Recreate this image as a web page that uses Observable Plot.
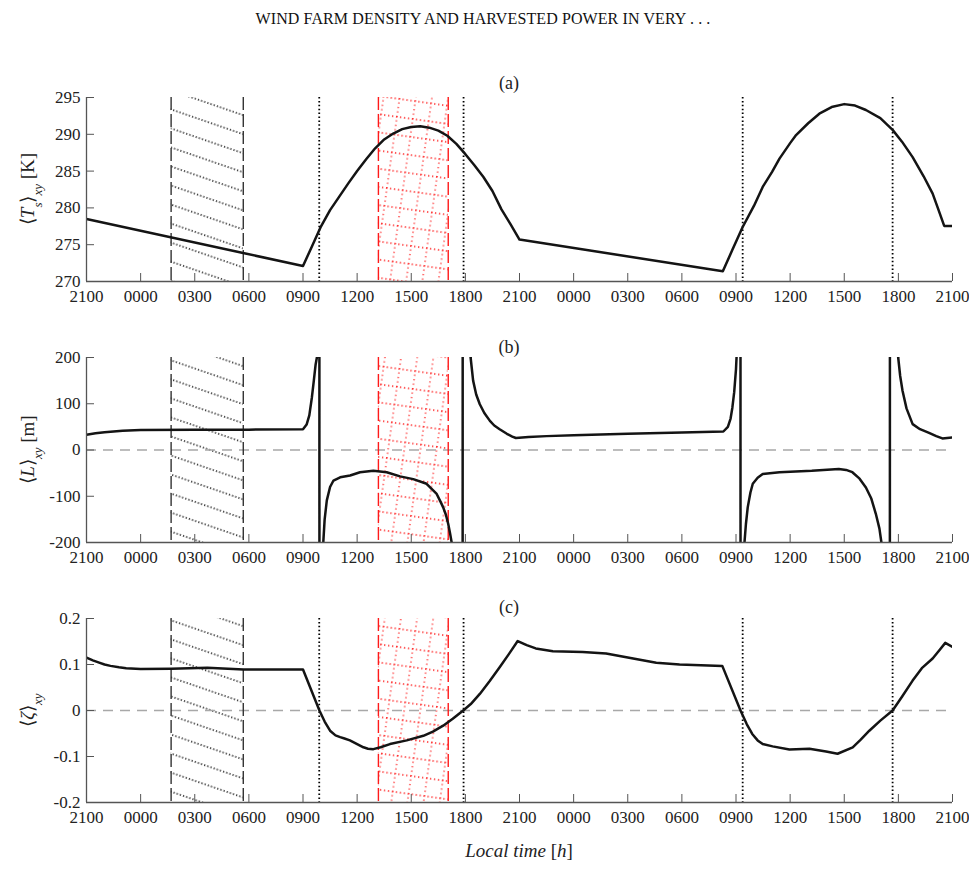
<!DOCTYPE html>
<html><head><meta charset="utf-8">
<script src="https://cdn.jsdelivr.net/npm/d3@7"></script>
<script src="https://cdn.jsdelivr.net/npm/@observablehq/plot@0.6"></script>
<style>
body{margin:0;background:#fff;}
#page{position:relative;width:969px;height:869px;font-family:"Liberation Serif",serif;background:#fff;}
.title{position:absolute;left:0;width:966px;top:10px;text-align:center;font-size:16px;color:#111;letter-spacing:0.1px;}
.xlabel{position:absolute;left:86px;width:866px;top:840px;text-align:center;font-size:19px;color:#222;}
#page svg{position:absolute;left:0;}
#page svg text{font-family:"Liberation Serif",serif;}
</style></head><body>
<div id="page">
<div class="title">WIND FARM DENSITY AND HARVESTED POWER IN VERY . . .</div>
<div class="xlabel"><i>Local time</i> [<i>h</i>]</div>
</div>
<script>
// ---- data (hours since 21:00 of day 1) ----
const tickHours = [0,3,6,9,12,15,18,21,24,27,30,33,36,39,42,45,48];
const tickLabels = ["2100","0000","0300","0600","0900","1200","1500","1800","2100","0000","0300","0600","0900","1200","1500","1800","2100"];
const nightBand = [4.69, 8.69];
const dayBand = [16.18, 20.05];
const zeroCrossings = [12.9, 20.9, 36.37, 44.68];

const aTicks = [270,275,280,285,290,295];
const bTicks = [-200,-100,0,100,200];
const cTicks = [-0.2,-0.1,0,0.1,0.2];

const aHours = [0,12.0,12.5,13.0,13.5,14.0,14.5,15.0,15.5,16.0,16.5,17.0,17.5,18.0,18.5,19.0,19.5,20.0,20.5,21.0,21.5,22.0,22.5,23.0,23.5,24.0,
  35.27,35.8,36.37,37.0,37.48,38.0,38.41,39.0,39.33,40.0,40.62,41.3,42.0,42.6,43.2,44.0,44.68,45.2,45.79,46.4,46.9,47.2,47.54,48.0];
const aTemp = [278.5,272.1,274.8,277.5,279.7,281.5,283.3,285.0,286.6,288.1,289.3,290.1,290.7,291.0,291.1,290.9,290.5,289.8,288.7,287.3,285.8,284.2,282.3,279.8,277.8,275.7,
  271.4,274.3,277.4,280.3,282.85,284.9,286.7,288.8,289.9,291.5,292.8,293.7,294.1,293.9,293.3,292.2,290.6,289.0,286.9,284.3,281.95,279.9,277.55,277.55];

const bHours = [0,0.5,1,2,3,6,9,12.0,12.2,12.35,12.49,12.6,12.7,12.77,12.85,12.9,
  12.92,13.05,13.13,13.2,13.32,13.5,13.69,14.06,14.61,15.16,15.9,16.64,17.38,18.11,18.85,19.41,19.6,19.77,19.92,20.05,20.15,20.24,20.4,20.84,
  20.86,21.2,21.29,21.43,21.6,21.8,22.05,22.36,22.6,22.9,23.3,23.6,23.8,24.5,25.5,27,30,33,35.3,35.55,35.7,35.8,35.9,36.0,36.03,36.15,36.24,
  36.26,36.4,36.47,36.55,36.65,36.8,36.93,37.2,37.48,38.41,40.2,41.7,42.1,42.45,42.85,43.2,43.5,43.75,43.95,44.06,44.3,44.52,
  44.54,44.9,44.99,45.1,45.23,45.45,45.79,46.2,46.7,47.1,47.44,48];
const bLength = [33,36,38.5,41.5,43,44,44,45,55,75,113,150,185,200,300,2000,
  -2000,-300,-196,-150,-109,-80,-66,-59,-55,-48,-45,-48,-57,-63,-73,-95,-110,-124,-140,-160,-180,-200,-260,-2000,
  2000,250,200,150,120,99,80,63,53,45,35,29,26,28,30,32,35,38,40,50,68,92,125,175,200,400,2000,
  -2000,-300,-200,-160,-124,-92,-73,-60,-52,-48,-45,-41,-43,-48,-62,-81,-105,-138,-170,-200,-300,-2000,
  2000,250,200,160,128,90,56,45,37,30,25,27];

const cHours = [0,0.35,0.7,1.0,1.33,1.8,2.2,3.0,4.69,6.7,8.7,12.0,12.91,13.2,13.5,13.8,14.06,14.3,14.6,15.0,15.35,15.6,15.9,16.3,16.82,17.75,18.67,19.2,19.77,20.3,20.88,21.3,21.8,22.35,22.9,23.4,23.9,
  24.4,24.9,25.85,27.5,28.8,30.3,31.58,32.87,35.24,36.25,36.6,36.9,37.2,37.48,38.03,38.96,40.07,40.99,41.63,42.47,42.9,43.39,44.0,44.68,45.2,45.79,46.3,46.9,47.25,47.6,48];
const cZeta = [0.115,0.109,0.104,0.100,0.097,0.094,0.092,0.090,0.091,0.093,0.089,0.089,0.0,-0.024,-0.044,-0.054,-0.058,-0.061,-0.065,-0.073,-0.080,-0.083,-0.084,-0.080,-0.073,-0.065,-0.055,-0.046,-0.033,-0.018,0.0,0.014,0.036,0.064,0.094,0.122,0.151,
  0.142,0.135,0.129,0.127,0.124,0.113,0.104,0.100,0.097,0.0,-0.030,-0.051,-0.065,-0.073,-0.078,-0.085,-0.083,-0.089,-0.094,-0.080,-0.064,-0.044,-0.022,0.0,0.030,0.065,0.092,0.113,0.130,0.147,0.138];

const zip = (xs, ys) => xs.map((t, i) => ({t, v: ys[i]}));
const fmtPlain = d => String(d);

function panel({key, top, marginTop, plotH, domain, ticks, data, dotted, zeroLine, letter, letterY, ylabel}) {
  const marks = [
    Plot.rect([nightBand], {x1: d => d[0], x2: d => d[1], fill: `url(#hk-${key})`}),
    Plot.rect([dayBand], {x1: d => d[0], x2: d => d[1], fill: `url(#hr-${key})`}),
  ];
  if (zeroLine) marks.push(Plot.ruleY([0], {stroke: "#a8a8a8", strokeWidth: 1.4, strokeDasharray: "10,7"}));
  if (dotted) marks.push(Plot.ruleX(zeroCrossings, {stroke: "#000", strokeWidth: 1.8, strokeDasharray: "1.5,2.4"}));
  marks.push(
    Plot.ruleX(nightBand, {stroke: "#333", strokeWidth: 1.4, strokeDasharray: "13,4"}),
    Plot.ruleX(dayBand, {stroke: "#ff1a1a", strokeWidth: 1.4, strokeDasharray: "13,4"}),
    Plot.line(data, {x: "t", y: "v", stroke: "#141414", strokeWidth: 2.5, clip: true, strokeLinejoin: "round"}),
    Plot.ruleX([0], {stroke: "#555", strokeWidth: 1.3}),
    Plot.ruleY([domain[0]], {stroke: "#555", strokeWidth: 1.3}),
    Plot.axisX({ticks: tickHours, tickFormat: d => tickLabels[tickHours.indexOf(d)], tickSize: -8, tickPadding: 16, stroke: "#555", fill: "#222", label: null}),
    Plot.axisY({ticks, tickFormat: fmtPlain, tickSize: -8, tickPadding: 14, stroke: "#555", fill: "#222", label: null})
  );
  const svg = Plot.plot({
    width: 969, height: marginTop + plotH + 35,
    marginLeft: 86, marginRight: 17, marginTop, marginBottom: 35,
    x: {domain: [0, 48]},
    y: {domain, nice: false},
    style: "font-family: 'Liberation Serif', serif; font-size: 17px; background: transparent; overflow: visible;",
    marks
  });
  svg.style.top = top + "px";
  const s = d3.select(svg);
  const defs = s.insert("defs", ":first-child");
  const pk = defs.append("pattern").attr("id", `hk-${key}`).attr("patternUnits", "userSpaceOnUse")
    .attr("width", 20).attr("height", 18).attr("patternTransform", "rotate(19)");
  pk.append("line").attr("x1", 0).attr("x2", 20).attr("y1", 9).attr("y2", 9)
    .attr("stroke", "#000").attr("stroke-width", 1.4).attr("stroke-dasharray", "1.2 2.133");
  const pr = defs.append("pattern").attr("id", `hr-${key}`).attr("patternUnits", "userSpaceOnUse")
    .attr("width", 16).attr("height", 18).attr("patternTransform", "rotate(8)");
  pr.append("line").attr("x1", 0).attr("x2", 16).attr("y1", 1).attr("y2", 1)
    .attr("stroke", "#ff1a1a").attr("stroke-width", 1.3).attr("stroke-dasharray", "1.3 2.7");
  pr.append("line").attr("x1", 1).attr("x2", 1).attr("y1", 0).attr("y2", 18)
    .attr("stroke", "#ff1a1a").attr("stroke-width", 1.3).attr("stroke-dasharray", "1.3 3.2");
  // panel letter
  s.append("text").attr("x", 509).attr("y", letterY).attr("text-anchor", "middle")
    .attr("font-size", 18).attr("fill", "#222").text(letter);
  // y label (rich text)
  const cy = marginTop + plotH / 2;
  const tx = s.append("text").attr("transform", `translate(34,${cy}) rotate(-90)`)
    .attr("text-anchor", "middle").attr("font-size", 19).attr("fill", "#222");
  ylabel.forEach(([txt, style]) => {
    const ts = tx.append("tspan").text(txt);
    if (style.includes("i")) ts.attr("font-style", "italic");
    if (style.includes("s")) ts.attr("baseline-shift", "sub").attr("font-size", 13);
  });
  document.getElementById("page").appendChild(svg);
}

panel({key: "a", top: 60, marginTop: 37, plotH: 184, domain: [270, 295], ticks: aTicks, data: zip(aHours, aTemp),
  dotted: true, zeroLine: false, letter: "(a)", letterY: 29,
  ylabel: [["⟨", ""], ["T", "i"], ["s", "is"], ["⟩", ""], ["xy", "is"], [" [K]", ""]]});
panel({key: "b", top: 330, marginTop: 27, plotH: 185, domain: [-200, 200], ticks: bTicks, data: zip(bHours, bLength),
  dotted: false, zeroLine: true, letter: "(b)", letterY: 23,
  ylabel: [["⟨", ""], ["L", "i"], ["⟩", ""], ["xy", "is"], [" [m]", ""]]});
panel({key: "c", top: 590, marginTop: 28, plotH: 184, domain: [-0.2, 0.2], ticks: cTicks, data: zip(cHours, cZeta),
  dotted: true, zeroLine: true, letter: "(c)", letterY: 23,
  ylabel: [["⟨", ""], ["ζ", "i"], ["⟩", ""], ["xy", "is"]]});
</script>
</body></html>
